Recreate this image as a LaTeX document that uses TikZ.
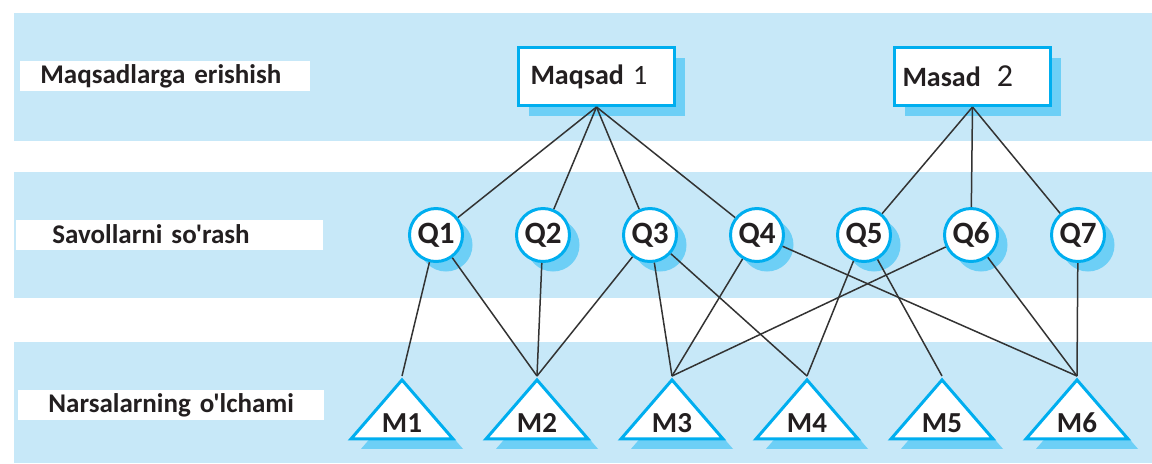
\documentclass[tikz,border=0pt]{standalone}
\usepackage{fontspec}
\setmainfont{Carlito}[Ligatures=TeXOff]
\usetikzlibrary{positioning,
  shapes.geometric,
  shadows
}
\definecolor{bandblue}{HTML}{C7E8F8}
\definecolor{edgeblue}{HTML}{00AEEF}
\definecolor{shadeblue}{HTML}{6DCFF6}
\definecolor{inkcol}{HTML}{231F20}

\newcommand{\tri}[1]{\raisebox{-8.5pt}[0pt][0pt]{\makebox[0pt]{#1}}}

\tikzstyle{lvlbox} = [fill=white, anchor=west, minimum height=15pt, inner ysep=0pt,
  align=left, text=inkcol, font=\bfseries\fontsize{13.5}{15}\selectfont]
\tikzstyle{bluesh} = [drop shadow={shadow xshift=5pt, shadow yshift=-5pt,
  fill=shadeblue, opacity=1}]
\tikzstyle{goal} = [rectangle, draw=edgeblue, fill=white, line width=1.5pt, bluesh,
  minimum height=29pt, text width=66pt, inner xsep=6pt, align=left, text=inkcol,
  font=\fontsize{14}{16}\selectfont]
\tikzstyle{quest} = [circle, draw=edgeblue, fill=white, line width=1.5pt, bluesh,
  minimum size=26.5pt, inner sep=0pt, text=inkcol, font=\bfseries\fontsize{15.5}{17}\selectfont]
\tikzstyle{meas} = [isosceles triangle, isosceles triangle stretches, shape border rotate=90,
  draw=edgeblue, fill=white, line width=1.5pt, bluesh, minimum width=51pt, minimum height=29.5pt,
  inner sep=0pt, text=inkcol, font=\bfseries\fontsize{14.5}{16}\selectfont]
\tikzstyle{link} = [draw=black!80, line width=0.75pt]

\begin{document}
\begin{tikzpicture}[x=0.5pt, y=-0.5pt]
  \useasboundingbox (0, 0) rectangle (1152, 463);

  % three levels
  \fill[bandblue] (14, 13) rectangle (1152, 141);
  \fill[bandblue] (14, 172) rectangle (1152, 298);
  \fill[bandblue] (14, 342) rectangle (1152, 463);

  \node[lvlbox, inner xsep=10pt, text width=125pt] (lgoal) at (20, 76) {Maqsadlarga erishish};
  \node[lvlbox, inner xsep=18pt, text width=117.5pt] (lquest) at (16, 234.5) {Savollarni so'rash};
  \node[lvlbox, inner xsep=15pt, text width=123pt] (lmeas) at (18, 405) {Narsalarning o'lchami};

  % goals
  \node[goal] (G1) at (596.5, 76.5) {\textbf{Maqsad} 1};
  \node[goal, inner xsep=4pt, text width=70pt] (G2) at (972.5, 76.5)
    {\textbf{Masad}\hspace{8pt}{\fontsize{16}{18}\selectfont 2}};

  % questions
  \node[quest] (Q1) at (436, 235) {Q1};
  \node[quest] (Q2) at (543, 235) {Q2};
  \node[quest] (Q3) at (650, 235) {Q3};
  \node[quest] (Q4) at (757, 235) {Q4};
  \node[quest] (Q5) at (864, 235) {Q5};
  \node[quest] (Q6) at (971, 235) {Q6};
  \node[quest] (Q7) at (1078, 235) {Q7};

  % metrics
  \node[meas, anchor=apex] (M1) at (402, 376) {\tri{M1}};
  \node[meas, anchor=apex] (M2) at (537, 376) {\tri{M2}};
  \node[meas, anchor=apex] (M3) at (672, 376) {\tri{M3}};
  \node[meas, anchor=apex] (M4) at (807, 376) {\tri{M4}};
  \node[meas, anchor=apex] (M5) at (942, 376) {\tri{M5}};
  \node[meas, anchor=apex] (M6) at (1077, 376) {\tri{M6}};

  \draw[link] (G1.south) -- (Q1);
  \draw[link] (G1.south) -- (Q2);
  \draw[link] (G1.south) -- (Q3);
  \draw[link] (G1.south) -- (Q4);
  \draw[link] (G2.south) -- (Q5);
  \draw[link] (G2.south) -- (Q6);
  \draw[link] (G2.south) -- (Q7);

  \draw[link] (Q1) -- (M1.apex);
  \draw[link] (Q1) -- (M2.apex);
  \draw[link] (Q2) -- (M2.apex);
  \draw[link] (Q3) -- (M2.apex);
  \draw[link] (Q3) -- (M3.apex);
  \draw[link] (Q3) -- (M4.apex);
  \draw[link] (Q4) -- (M3.apex);
  \draw[link] (Q4) -- (M6.apex);
  \draw[link] (Q5) -- (M4.apex);
  \draw[link] (Q5) -- (M5.apex);
  \draw[link] (Q6) -- (M3.apex);
  \draw[link] (Q6) -- (M6.apex);
  \draw[link] (Q7) -- (M6.apex);
\end{tikzpicture}
\end{document}
